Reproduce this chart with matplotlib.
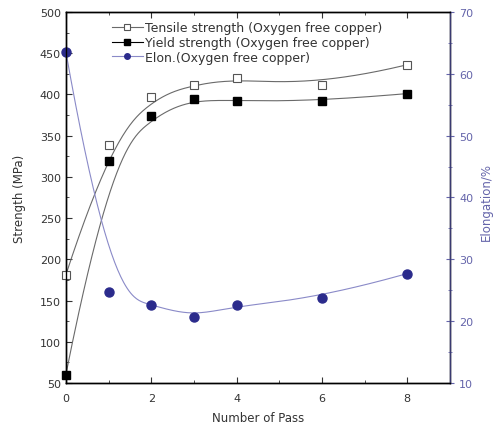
import matplotlib

matplotlib.use("Agg")
import matplotlib.pyplot as plt
import numpy as np
from matplotlib.ticker import MultipleLocator

plt.rcParams["font.family"] = ["DejaVu Sans"]

# --- Data --------------------------------------------------------------------
passes = [0, 1, 2, 3, 4, 6, 8]
tensile = [181, 339, 397, 411, 420, 411, 436]
yield_strength = [60, 319, 374, 394, 392, 392, 401]
elongation = [63.6, 24.7, 22.6, 20.7, 22.6, 23.8, 27.7]

labels = [
    "Tensile strength (Oxygen free copper)",
    "Yield strength (Oxygen free copper)",
    "Elon.(Oxygen free copper)",
]

STRENGTH_COLOR = "#6a6a6a"
ELON_LINE = "#8a8ac8"
ELON_MARK = "#2b2b8c"
RIGHT_COLOR = "#6464aa"
TEXT_COLOR = "#333333"


def bspline(x, y, n=300):
    """Clamped cubic B-spline with the data points as control points
    (Origin's 'B-Spline' connect style)."""
    pts = np.column_stack([x, y]).astype(float)
    m = len(pts)
    k = 3
    knots = np.concatenate([np.zeros(k), np.arange(m - k + 1), np.full(k, m - k)])
    u = np.linspace(0, m - k, n)
    u[-1] -= 1e-9

    def basis(i, p, t):
        if p == 0:
            return ((knots[i] <= t) & (t < knots[i + 1])).astype(float)
        out = np.zeros_like(t)
        d1 = knots[i + p] - knots[i]
        d2 = knots[i + p + 1] - knots[i + 1]
        if d1 > 0:
            out += (t - knots[i]) / d1 * basis(i, p - 1, t)
        if d2 > 0:
            out += (knots[i + p + 1] - t) / d2 * basis(i + 1, p - 1, t)
        return out

    B = np.column_stack([basis(i, k, u) for i in range(m)])
    curve = B @ pts
    return curve[:, 0], curve[:, 1]


fig = plt.figure(figsize=(4.95, 4.31), dpi=100)
ax = fig.add_axes([0.133, 0.109, 0.776, 0.861])
ax2 = ax.twinx()

ax.plot(*bspline(passes, tensile), color=STRENGTH_COLOR, lw=0.8)
ax.plot(*bspline(passes, yield_strength), color=STRENGTH_COLOR, lw=0.8)
ax.plot(passes, tensile, ls="none", marker="s", ms=6, mfc="white",
        mec="#555555", mew=0.8, clip_on=False, zorder=3)
ax.plot(passes, yield_strength, ls="none", marker="s", ms=6, mfc="black",
        mec="black", clip_on=False, zorder=3)
ax2.plot(*bspline(passes, elongation), color=ELON_LINE, lw=0.8)
ax2.plot(passes, elongation, ls="none", marker="o", ms=6.5, mfc=ELON_MARK,
         mec=ELON_MARK, clip_on=False)

# legend handles: line + marker
h1, = ax.plot([], [], color=STRENGTH_COLOR, lw=0.8, marker="s", ms=5,
              mfc="white", mec="#555555", mew=0.8)
h2, = ax.plot([], [], color="black", lw=0.8, marker="s", ms=5, mfc="black")
h3, = ax.plot([], [], color=ELON_LINE, lw=0.8, marker="o", ms=4,
              mfc=ELON_MARK, mec=ELON_MARK)
ax.legend([h1, h2, h3], labels, loc="upper left", bbox_to_anchor=(0.1, 0.995),
          frameon=False, fontsize=9, handlelength=2.5, handletextpad=0.15,
          labelspacing=0.13, borderaxespad=0.2, labelcolor=TEXT_COLOR)

ax.set_xlim(0, 9)
ax.set_ylim(50, 500)
ax2.set_ylim(10, 70)

ax.xaxis.set_major_locator(MultipleLocator(2))
ax.xaxis.set_minor_locator(MultipleLocator(1))
ax.yaxis.set_major_locator(MultipleLocator(50))
ax.yaxis.set_minor_locator(MultipleLocator(25))
ax2.yaxis.set_major_locator(MultipleLocator(10))
ax2.yaxis.set_minor_locator(MultipleLocator(5))

ax.tick_params(which="both", direction="in", top=True, right=False,
               labelsize=8, colors=TEXT_COLOR)
ax.tick_params(which="major", length=4)
ax.tick_params(which="minor", length=2.5)
ax.tick_params(axis="x", pad=7)
ax2.tick_params(which="both", direction="inout", labelsize=8,
                colors=RIGHT_COLOR)
ax2.tick_params(which="major", length=6)
ax2.tick_params(which="minor", length=3)
ax2.spines["right"].set_color("#3a3a70")

for a in (ax, ax2):
    for s in a.spines.values():
        s.set_linewidth(1.0)

ax.set_xlabel("Number of Pass", fontsize=8.5, color=TEXT_COLOR, labelpad=6)
ax.set_ylabel("Strength (MPa)", fontsize=8.5, color=TEXT_COLOR, labelpad=10)
ax2.set_ylabel("Elongation/%", fontsize=8.5, color=RIGHT_COLOR, rotation=90,
               va="center")
ax2.yaxis.set_label_coords(1.095, 0.49)

fig.savefig("out.png", dpi=100)
